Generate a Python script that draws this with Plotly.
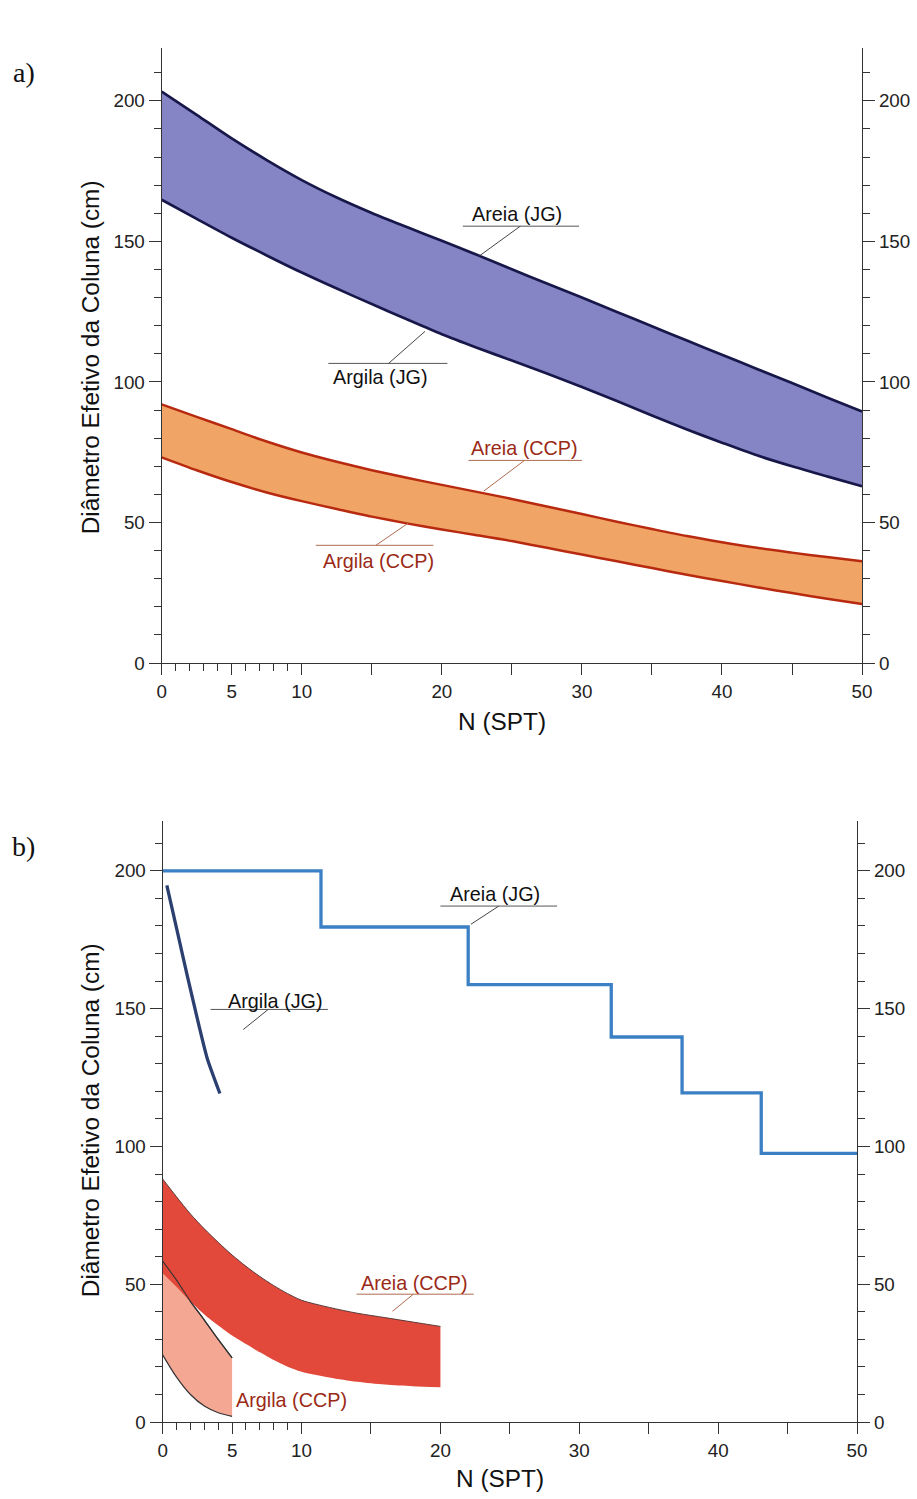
import plotly.graph_objects as go

W, H = 917, 1499

# ---------------- Panel a) data ----------------
n_a = [0, 2.5, 5, 7.5, 10, 12.5, 15, 17.5, 20, 22.5, 25, 27.5, 30, 32.5, 35, 37.5, 40, 42.5, 45, 47.5, 50]
areia_jg_a = [203.3, 195, 186.6, 178.9, 171.8, 165.6, 160.1, 155.1, 150.2, 145.2, 140.1, 135, 130, 124.9, 119.8, 114.7, 109.7, 104.6, 99.6, 94.5, 89.5]
argila_jg_a = [164.8, 158, 151.3, 145, 138.9, 133.2, 127.7, 122.3, 117, 112.2, 107.6, 103, 98.2, 93.2, 88.1, 83.1, 78.4, 73.9, 70, 66.4, 62.9]
areia_ccp_a = [92, 87.6, 83.2, 78.8, 74.9, 71.6, 68.6, 65.9, 63.4, 60.9, 58.4, 55.7, 53, 50.3, 47.7, 45.2, 43, 41, 39.3, 37.7, 36.2]
argila_ccp_a = [73.2, 68.6, 64.4, 60.7, 57.6, 54.8, 52.1, 49.7, 47.5, 45.5, 43.4, 41, 38.6, 36.2, 33.8, 31.4, 29.2, 27, 24.9, 22.9, 21]

# ---------------- Panel b) data ----------------
n_steps_b = [0, 11.4, 22.0, 32.3, 37.4, 43.1, 50]
areia_jg_b = [200, 179.6, 158.7, 139.7, 119.4, 97.5, 97.5]
n_argila_jg_b = [0.3, 1.06, 1.82, 2.61, 3.21, 4.12]
argila_jg_b = [194.7, 177.8, 160.9, 143.9, 131.9, 119.2]
n_areia_ccp_b = [0, 1, 2, 3, 4, 5, 6, 7, 8, 9, 10, 12, 14, 16, 18, 20]
areia_ccp_b_sup = [88.2, 81.7, 75.5, 70.1, 65.2, 60.6, 56.5, 52.8, 49.5, 46.6, 44.2, 41.6, 39.5, 37.9, 36.3, 34.7]
areia_ccp_b_inf = [54, 49, 43.7, 39, 35, 31.4, 28.3, 25.3, 22.5, 20.1, 18.3, 16.2, 14.6, 13.6, 13, 12.6]
n_argila_ccp_b = [0, 1, 2, 3, 4, 5]
argila_ccp_b_sup = [58.4, 51.5, 43.8, 37, 30, 23.3]
argila_ccp_b_inf = [24.4, 16.3, 10, 5.8, 3.4, 2.1]

x_major = [0, 5, 10, 15, 20, 25, 30, 35, 40, 45, 50]
x_major_text = ["0", "5", "10", "", "20", "", "30", "", "40", "", "50"]
x_minor = [1, 2, 3, 4, 6, 7, 8, 9]
y_major = [0, 50, 100, 150, 200]
y_minor = [v for v in range(10, 220, 10) if v % 50 != 0]

FONT = "Liberation Sans, Arial, sans-serif"
DARKRED = "#9a2a16"

# the captured page comes out slightly shrunk; map target pixel positions to layout positions
SX, OX, SY = 0.9845, 4.2, 0.994


def px(xr):
    return (xr - OX) / SX


def py(yr):
    return yr / SY


fig = go.Figure()


def band(xs, up, lo, fillcolor, linecolor, lw, xa, ya, shape="spline", line_lo=True, line_up=True):
    fig.add_trace(go.Scatter(
        x=xs, y=lo, mode="lines",
        line=dict(color=linecolor if line_lo else "rgba(0,0,0,0)", width=lw if line_lo else 0, shape=shape, smoothing=0.8),
        xaxis=xa, yaxis=ya, hoverinfo="skip", showlegend=False))
    fig.add_trace(go.Scatter(
        x=xs, y=up, mode="lines", fill="tonexty", fillcolor=fillcolor,
        line=dict(color=linecolor if line_up else "rgba(0,0,0,0)", width=lw if line_up else 0, shape=shape, smoothing=0.8),
        xaxis=xa, yaxis=ya, hoverinfo="skip", showlegend=False))


# Panel a
band(n_a, areia_jg_a, argila_jg_a, "#8585c6", "#17174a", 2.7, "x", "y")
band(n_a, areia_ccp_a, argila_ccp_a, "#f0a466", "#b82a10", 2.5, "x", "y")

# Panel b
band(n_argila_ccp_b, argila_ccp_b_sup, argila_ccp_b_inf, "#f4a894", "#333333", 1.2, "x2", "y3")
band(n_areia_ccp_b, areia_ccp_b_sup, areia_ccp_b_inf, "#e2493a", "#5a3a3a", 1.0, "x2", "y3", line_lo=False)
fig.add_trace(go.Scatter(x=n_argila_ccp_b, y=argila_ccp_b_sup, mode="lines",
                         line=dict(color="#333333", width=1.1, shape="spline", smoothing=0.8),
                         xaxis="x2", yaxis="y3", hoverinfo="skip", showlegend=False))
fig.add_trace(go.Scatter(x=n_steps_b, y=areia_jg_b, mode="lines", line=dict(color="#3b7fc4", width=3.3, shape="hv"),
                         xaxis="x2", yaxis="y3", hoverinfo="skip", showlegend=False))
fig.add_trace(go.Scatter(x=n_argila_jg_b, y=argila_jg_b, mode="lines",
                         line=dict(color="#2b3f70", width=3.3, shape="spline", smoothing=0.6),
                         xaxis="x2", yaxis="y3", hoverinfo="skip", showlegend=False))

# invisible traces so the right-hand axes render
fig.add_trace(go.Scatter(x=[0], y=[0], mode="markers", marker=dict(opacity=0), xaxis="x", yaxis="y2",
                         hoverinfo="skip", showlegend=False))
fig.add_trace(go.Scatter(x=[0], y=[0], mode="markers", marker=dict(opacity=0), xaxis="x2", yaxis="y4",
                         hoverinfo="skip", showlegend=False))

tickfont = dict(family=FONT, size=18.8, color="#222222")


def xax(domain, anchor):
    return dict(domain=domain, anchor=anchor, range=[0, 50], showgrid=False, zeroline=False,
                showline=True, linecolor="#333333", linewidth=1.2,
                tickmode="array", tickvals=x_major, ticktext=x_major_text, ticks="outside",
                ticklen=11, tickwidth=1.2, tickcolor="#333333", tickfont=tickfont,
                minor=dict(tickmode="array", tickvals=x_minor, ticks="outside", ticklen=7,
                           tickwidth=1, tickcolor="#333333"))


def yax(domain, anchor, rng, side="left", overlaying=None):
    d = dict(domain=domain, anchor=anchor, range=rng, showgrid=False, zeroline=False,
             showline=True, linecolor="#333333", linewidth=1.2, side=side,
             tickmode="array", tickvals=y_major, ticks="outside",
             ticklen=12, tickwidth=1.2, tickcolor="#333333", tickfont=tickfont,
             minor=dict(tickmode="array", tickvals=y_minor, ticks="outside", ticklen=7,
                        tickwidth=1, tickcolor="#333333"))
    if overlaying:
        d["overlaying"] = overlaying
    return d


dom_xa = [px(161) / W, px(862) / W]
dom_ya = [1 - py(664) / H, 1 - py(48) / H]
dom_xb = [px(162) / W, px(857) / W]
dom_yb = [1 - py(1424) / H, 1 - py(822) / H]
rng_a = [0, 218.8]
rng_b = [0, 218.1]

shapes = []
annotations = []


def leader(x0, y0, x1, y1, xr, yr, color, width=1):
    shapes.append(dict(type="line", xref=xr, yref=yr, x0=x0, y0=y0, x1=x1, y1=y1,
                       line=dict(color=color, width=width)))


def label(text, x, y, xr, yr, color, size=19.8):
    annotations.append(dict(text=text, x=x, y=y, xref=xr, yref=yr, showarrow=False,
                            font=dict(family=FONT, size=size, color=color),
                            xanchor="center", yanchor="middle"))


# Panel a labels
label("Areia (JG)", 25.4, 159.9, "x", "y", "#111111")
leader(21.5, 155.4, 29.8, 155.4, "x", "y", "#555555")
leader(25.6, 155.4, 22.7, 144.9, "x", "y", "#444444")

label("Argila (JG)", 15.6, 101.6, "x", "y", "#111111")
leader(11.9, 106.6, 20.4, 106.6, "x", "y", "#555555")
leader(16.2, 106.6, 18.8, 118.0, "x", "y", "#444444")

label("Areia (CCP)", 25.9, 76.4, "x", "y", DARKRED)
leader(21.9, 72.1, 30.0, 72.1, "x", "y", "#b06a50")
leader(25.9, 72.1, 23.0, 61.2, "x", "y", "#b06a50")

label("Argila (CCP)", 15.5, 36.2, "x", "y", DARKRED)
leader(11.0, 41.9, 19.4, 41.9, "x", "y", "#b06a50")
leader(15.3, 41.9, 17.6, 49.8, "x", "y", "#b06a50")

# Panel b labels
label("Areia (JG)", 23.9, 191.7, "x2", "y3", "#111111")
leader(20.0, 187.2, 28.4, 187.2, "x2", "y3", "#555555")
leader(24.2, 187.2, 22.2, 180.6, "x2", "y3", "#444444")

label("Argila (JG)", 8.1, 152.9, "x2", "y3", "#111111")
leader(3.45, 149.7, 11.9, 149.7, "x2", "y3", "#555555")
leader(7.6, 149.7, 5.8, 142.4, "x2", "y3", "#444444")

label("Areia (CCP)", 18.1, 50.4, "x2", "y3", DARKRED)
leader(13.96, 46.4, 22.4, 46.4, "x2", "y3", "#b06a50")
leader(18.05, 46.4, 16.55, 40.2, "x2", "y3", "#b06a50")

label("Argila (CCP)", 9.3, 8.0, "x2", "y3", DARKRED)

# Axis titles and panel letters
ytitle = "Diâmetro Efetivo da Coluna (cm)"
for (cx, cy) in [(90, 358), (90, 1122)]:
    annotations.append(dict(text=ytitle, x=px(cx) / W, y=1 - py(cy) / H, xref="paper", yref="paper",
                            showarrow=False, textangle=-90,
                            font=dict(family=FONT, size=24.4, color="#111111"),
                            xanchor="center", yanchor="middle"))
for (cx, cy) in [(502, 722), (500, 1480)]:
    annotations.append(dict(text="N (SPT)", x=px(cx) / W, y=1 - py(cy) / H, xref="paper", yref="paper",
                            showarrow=False, font=dict(family=FONT, size=24.4, color="#111111"),
                            xanchor="center", yanchor="middle"))
for (t, cx, cy) in [("a)", 23, 73), ("b)", 23, 848)]:
    annotations.append(dict(text=t, x=px(cx) / W, y=1 - py(cy) / H, xref="paper", yref="paper",
                            showarrow=False, font=dict(family="Liberation Serif, Times New Roman, serif",
                                                       size=28, color="#111111"),
                            xanchor="center", yanchor="middle"))

fig.update_layout(
    width=W, height=H, margin=dict(l=0, r=0, t=0, b=0),
    paper_bgcolor="white", plot_bgcolor="rgba(0,0,0,0)",
    showlegend=False,
    xaxis=xax(dom_xa, "y"),
    yaxis=yax(dom_ya, "x", rng_a),
    yaxis2=yax(dom_ya, "x", rng_a, side="right", overlaying="y"),
    xaxis2=xax(dom_xb, "y3"),
    yaxis3=yax(dom_yb, "x2", rng_b),
    yaxis4=yax(dom_yb, "x2", rng_b, side="right", overlaying="y3"),
    shapes=shapes, annotations=annotations,
)

fig.write_html("out.html")
